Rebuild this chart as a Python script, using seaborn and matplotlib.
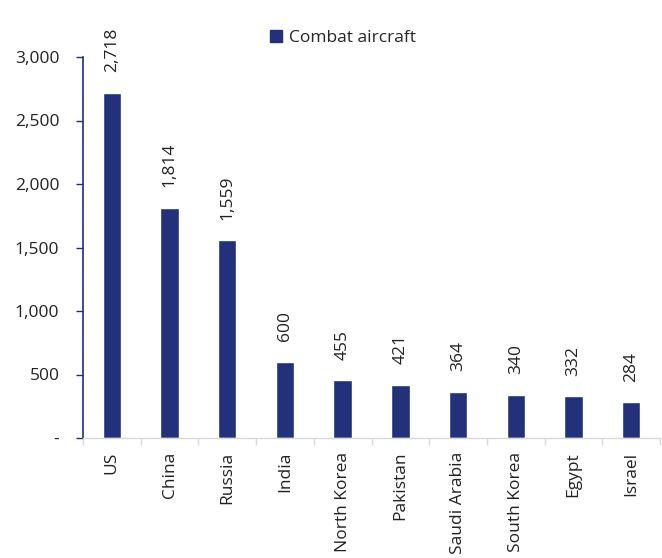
import matplotlib
matplotlib.use("Agg")
import matplotlib.pyplot as plt
import seaborn as sns
import pandas as pd
from matplotlib.ticker import FixedLocator
from matplotlib.patches import Patch

countries = ["US", "China", "Russia", "India", "North Korea", "Pakistan",
             "Saudi Arabia", "South Korea", "Egypt", "Israel"]
aircraft = [2718, 1814, 1559, 600, 455, 421, 364, 340, 332, 284]
yticks = [0, 500, 1000, 1500, 2000, 2500, 3000]
ytick_labels = ["-", "500", "1,000", "1,500", "2,000", "2,500", "3,000"]

sns.set_theme(style="white")
plt.rcParams["font.family"] = ["Open Sans", "DejaVu Sans"]

color = "#22317A"
df = pd.DataFrame({"country": countries, "aircraft": aircraft})

fig = plt.figure(figsize=(6.62, 5.58), dpi=100)
ax = fig.add_axes([83/662, 1 - 438/558, 577/662, (438-57)/558])
sns.barplot(data=df, x="country", y="aircraft", color=color, width=0.32,
            saturation=1, ax=ax)

fs = 12.5
ax.set_ylim(0, 3000)
ax.set_xlim(-0.5, len(countries) - 0.5)
ax.set_yticks(yticks)
ax.set_yticklabels(ytick_labels, fontsize=fs, color="#222222")
ax.set_xlabel("")
ax.set_ylabel("")
ax.set_xticks(range(len(countries)))
ax.set_xticklabels(countries, rotation=90, fontsize=fs, color="#222222")
ax.tick_params(axis="x", which="major", length=0, pad=10)
ax.xaxis.set_minor_locator(FixedLocator([i - 0.5 for i in range(len(countries) + 1)]))
ax.tick_params(axis="x", which="minor", length=5, color="#d9d9d9", width=1, bottom=True)
ax.tick_params(axis="y", length=5, color=color, width=1, left=True, pad=12)

for s in ["top", "right"]:
    ax.spines[s].set_visible(False)
ax.spines["left"].set_color(color)
ax.spines["left"].set_linewidth(1.2)
ax.spines["bottom"].set_color("#d9d9d9")
ax.spines["bottom"].set_linewidth(1)

for i, v in enumerate(aircraft):
    ax.text(i, v + 160, f"{v:,}", rotation=90, ha="center", va="bottom",
            fontsize=fs, color="#222222")

handles = [Patch(facecolor=color, edgecolor=color, label="Combat aircraft")]
fig.legend(handles=handles, loc="center", bbox_to_anchor=(343/662, 1 - 38/558),
           frameon=False, fontsize=fs, handlelength=0.7, handleheight=0.7,
           handletextpad=0.4)

fig.savefig("out.png", dpi=100)
